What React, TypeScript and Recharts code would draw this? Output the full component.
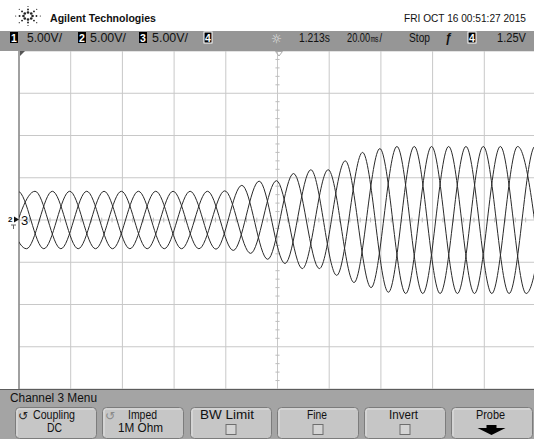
import React from 'react';
import { LineChart, Line, XAxis, YAxis, CartesianGrid, ReferenceLine } from 'recharts';

// 10 divisions of 20 ms across, 8 divisions of 5 V down
const timeTicks = [0, 20, 40, 60, 80, 100, 120, 140, 160, 180, 200];
const voltTicks = [-20, -15, -10, -5, 0, 5, 10, 15, 20];

// peak / trough instants (ms) and the voltage at each one, per channel
const ch1Times = [-3.8, 6.2, 16.2, 26.2, 36.2, 46.2, 56.2, 66.2, 76.2, 86.2, 96.2, 106.2, 116.2, 126.2, 136.2, 146.2, 156.2, 166.2, 176.2, 186.2, 196.2, 206.2];
const ch1Volts = [-3.4, 3.4, -3.4, 3.4, -3.4, 3.4, -3.4, 3.4, -3.45, 4.1, -4.65, 5.5, -5.75, 7.0, -8.0, 8.7, -8.7, 8.7, -8.7, 8.7, -8.7, 8.7];

const ch2Times = [-7.1, 2.9, 12.9, 22.9, 32.9, 42.9, 52.9, 62.9, 72.9, 82.9, 92.9, 102.9, 112.9, 122.9, 132.9, 142.9, 152.9, 162.9, 172.9, 182.9, 192.9, 202.9];
const ch2Volts = [3.4, -3.4, 3.4, -3.4, 3.4, -3.4, 3.4, -3.4, 3.4, -3.6, 4.6, -5.15, 5.95, -6.55, 8.0, -8.55, 8.7, -8.7, 8.7, -8.7, 8.7, -8.7];

const ch3Times = [-10.4, -0.4, 9.6, 19.6, 29.6, 39.6, 49.6, 59.6, 69.6, 79.6, 89.6, 99.6, 109.6, 119.6, 129.6, 139.6, 149.6, 159.6, 169.6, 179.6, 189.6, 199.6, 209.6];
const ch3Volts = [-3.4, 3.4, -3.4, 3.4, -3.4, 3.4, -3.4, 3.4, -3.4, 3.45, -3.95, 4.65, -5.75, 5.95, -7.4, 8.45, -8.7, 8.7, -8.7, 8.7, -8.7, 8.7, -8.7];

const channelScales = ['5.00V/', '5.00V/', '5.00V/'];
const timebase = { delay: '1.213s', perDiv: '20.00㎳/', mode: 'Stop', trigLevel: '1.25V' };
const stamp = 'FRI OCT 16 00:51:27 2015';
const menuTitle = 'Channel 3  Menu';
const menuButtons = [
  { label: 'Coupling', sub: 'DC', kind: 'icon' },
  { label: 'Imped', sub: '1M Ohm', kind: 'faint' },
  { label: 'BW Limit', kind: 'check' },
  { label: 'Fine', kind: 'check' },
  { label: 'Invert', kind: 'check' },
  { label: 'Probe', kind: 'arrow' },
];

const toPoints = (ts: number[], vs: number[]) => ts.map((t, i) => ({ t, v: vs[i] }));
const ch1 = toPoints(ch1Times, ch1Volts);
const ch2 = toPoints(ch2Times, ch2Volts);
const ch3 = toPoints(ch3Times, ch3Volts);

// fifth-of-a-division marks along the centre cross
const minorT = Array.from({ length: 49 }, (_, i) => (i + 1) * 4).filter((t) => t % 20 !== 0);
const minorV = Array.from({ length: 39 }, (_, i) => i - 19).filter((v) => v % 5 !== 0);

const FONT = '"Liberation Sans", Arial, sans-serif';

// the scope's narrow bitmap font: squeeze Arial into a fixed span
function T({ x0, x1, y, size = 12, bold = false, fill = '#111', children }: any) {
  return (
    <text
      x={x0}
      y={y}
      textLength={x1 - x0}
      lengthAdjust="spacingAndGlyphs"
      fontFamily={FONT}
      fontSize={size}
      fontWeight={bold ? 700 : 400}
      fill={fill}
    >
      {children}
    </text>
  );
}

function ChanBox({ x, n, ring = false }: any) {
  return (
    <g>
      <rect x={x} y={32} width={8} height={11} fill="#000" stroke={ring ? '#fff' : 'none'} strokeWidth={1} />
      <text x={x + 4} y={41.5} textAnchor="middle" fontFamily={FONT} fontSize={10.5} fontWeight={700} fill="#fff">{n}</text>
    </g>
  );
}

function Spark() {
  const rays = [0, 45, 90, 135, 180, 225, 270, 315];
  return (
    <g>
      {rays.map((a) => {
        const r = (a * Math.PI) / 180;
        return [3.5, 6.5, 9.5].map((d, k) => (
          <circle key={a + '-' + k} cx={28 + Math.cos(r) * d * 1.3} cy={16 + Math.sin(r) * d} r={1.3 - k * 0.35} fill="#222" />
        ));
      })}
    </g>
  );
}

const btnX = [15, 102, 190, 277, 364, 451];
const btnLabelSpan: [number, number][] = [[33, 75], [128, 157], [200, 254], [307, 327], [389, 418], [476, 505]];
const btnSubSpan: [number, number][] = [[47, 62], [118, 163]];

function MenuButton({ b, i }: any) {
  const x = btnX[i];
  const w = 81;
  const cx = x + w / 2;
  return (
    <g>
      <rect x={x + 0.5} y={407.5} width={w} height={31} rx={4} fill="#c6c6c6" stroke="#7c7c7c" />
      <path d={`M${x + 2} ${436} V${411} Q${x + 2} ${409} ${x + 4} ${409} H${x + w - 2}`} fill="none" stroke="#e2e2e2" />
      <T x0={btnLabelSpan[i][0]} x1={btnLabelSpan[i][1]} y={419}>{b.label}</T>
      {b.sub && <T x0={btnSubSpan[i][0]} x1={btnSubSpan[i][1]} y={432}>{b.sub}</T>}
      {(b.kind === 'icon' || b.kind === 'faint') && (
        <text x={x + 3} y={420} fontFamily='"DejaVu Sans", sans-serif' fontSize={12} fill={b.kind === 'icon' ? '#222' : '#8a8a8a'}>↺</text>
      )}
      {b.kind === 'check' && <rect x={cx - 4.5} y={424.5} width={10} height={10} fill="#d4d4d4" stroke="#6e6e6e" />}
      {b.kind === 'arrow' && <polygon points={`${cx - 5},425 ${cx + 5},425 ${cx + 5},428 ${cx + 14},428 ${cx},435 ${cx - 14},428 ${cx - 5},428`} fill="#000" />}
    </g>
  );
}

export default function App() {
  return (
    <div style={{ position: 'absolute', left: 0, top: 0, width: 534, height: 439, overflow: 'hidden', background: '#fff' }}>
      {/* graticule and traces */}
      <div style={{ position: 'absolute', left: 0, top: 46 }}>
        <LineChart width={540} height={348} margin={{ top: 5, right: 4, bottom: 5, left: 19 }}>
          <XAxis type="number" dataKey="t" domain={[0, 200]} ticks={timeTicks} allowDataOverflow hide />
          <YAxis type="number" dataKey="v" domain={[-20, 20]} ticks={voltTicks} allowDataOverflow hide />
          <CartesianGrid stroke="#c8c8c8" strokeWidth={1} />
          {minorT.map((t) => (
            <ReferenceLine key={'mt' + t} segment={[{ x: t, y: -0.28 }, { x: t, y: 0.28 }]} stroke="#bdbdbd" />
          ))}
          {minorV.map((v) => (
            <ReferenceLine key={'mv' + v} segment={[{ x: 99.2, y: v }, { x: 100.8, y: v }]} stroke="#bdbdbd" />
          ))}
          <ReferenceLine x={0} stroke="#8a8a8a" strokeWidth={1.5} />
          <Line data={ch1} dataKey="v" type="monotone" stroke="#2a2a2a" strokeWidth={1} dot={false} isAnimationActive={false} />
          <Line data={ch2} dataKey="v" type="monotone" stroke="#2a2a2a" strokeWidth={1} dot={false} isAnimationActive={false} />
          <Line data={ch3} dataKey="v" type="monotone" stroke="#2a2a2a" strokeWidth={1} dot={false} isAnimationActive={false} />
        </LineChart>
      </div>

      <svg width={534} height={439} style={{ position: 'absolute', left: 0, top: 0, pointerEvents: 'none' }}>
        {/* header */}
        <Spark />
        <T x0={50} x1={156} y={21.5} size={11.5} bold>Agilent Technologies</T>
        <T x0={404} x1={526} y={22} size={10.5}>{stamp}</T>

        {/* channel / timebase strip */}
        <rect x={0} y={31} width={534} height={20} fill="#969696" />
        <ChanBox x={10} n="1" />
        <T x0={27} x1={62} y={42}>{channelScales[0]}</T>
        <ChanBox x={78} n="2" />
        <T x0={90} x1={126} y={42}>{channelScales[1]}</T>
        <ChanBox x={139} n="3" />
        <T x0={152} x1={188} y={42}>{channelScales[2]}</T>
        <ChanBox x={204} n="4" ring />
        <text x={276.5} y={42.5} textAnchor="middle" fontFamily='"DejaVu Sans", sans-serif' fontSize={12} fill="#e4e4e4">☼</text>
        <T x0={299} x1={330} y={42}>{timebase.delay}</T>
        <T x0={347} x1={382} y={42}>{timebase.perDiv}</T>
        <T x0={409} x1={430} y={42}>{timebase.mode}</T>
        <text x={445} y={42} fontFamily={FONT} fontSize={12} fontWeight={700} fontStyle="italic" fill="#111">ƒ</text>
        <ChanBox x={468} n="4" ring />
        <T x0={497} x1={526} y={42}>{timebase.trigLevel}</T>

        {/* trigger position and ground markers */}
        <polygon points="20,51 25,51 20,56" fill="#555" />
        <polygon points="275.5,51.5 282.5,51.5 279,56" fill="none" stroke="#aaa" />
        <text x={8} y={222} fontFamily={FONT} fontSize={8} fontWeight={700} fill="#111">2</text>
        <polygon points="14,216.5 19,219.5 14,222.5" fill="#111" />
        <text x={21} y={225} fontFamily={FONT} fontSize={13} fill="#111">3</text>
        <path d="M11 225 H16 M13.5 225 V229" stroke="#666" fill="none" />

        {/* softkey menu */}
        <rect x={0} y={389} width={534} height={50} fill="#a4a4a4" />
        <line x1={0} x2={534} y1={389.5} y2={389.5} stroke="#5c5c5c" />
        <T x0={10} x1={97} y={402}>{menuTitle}</T>
        {menuButtons.map((b, i) => (
          <MenuButton key={b.label} b={b} i={i} />
        ))}
      </svg>
    </div>
  );
}
